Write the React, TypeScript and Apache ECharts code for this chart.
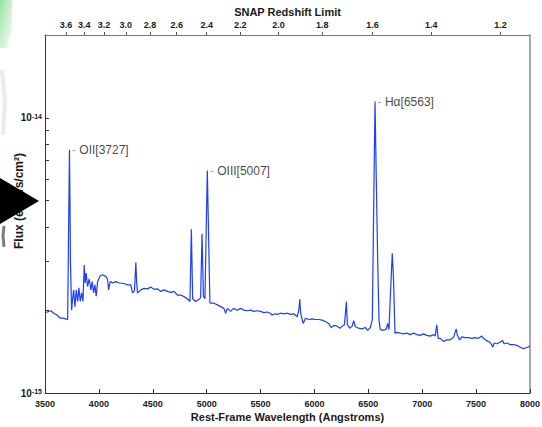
import React, { useEffect, useRef } from 'react';
import * as echarts from 'echarts';

// Rest-frame wavelength (Angstroms)
const wavelengths = [
  3500, 3520, 3556, 3580, 3610, 3630, 3645, 3667, 3690, 3710,
  3727, 3731, 3736, 3747, 3756, 3766, 3778, 3790, 3803, 3815,
  3827, 3840, 3852, 3864, 3873, 3882, 3895, 3910, 3926, 3938,
  3951, 3963, 3975, 3988, 4012, 4034, 4050, 4065, 4081, 4090,
  4105, 4127, 4157, 4188, 4234, 4266, 4296, 4312, 4330, 4343,
  4350, 4358, 4389, 4419, 4451, 4481, 4512, 4544, 4574, 4605,
  4636, 4667, 4697, 4729, 4759, 4790, 4821, 4845, 4858, 4870,
  4898, 4929, 4944, 4957, 4970, 4984, 5006, 5030, 5040, 5068,
  5099, 5130, 5160, 5176, 5192, 5222, 5250, 5284, 5315, 5346,
  5377, 5408, 5438, 5470, 5500, 5530, 5562, 5590, 5608, 5635,
  5655, 5685, 5716, 5747, 5778, 5810, 5840, 5855, 5864, 5872,
  5895, 5917, 5948, 5979, 6010, 6040, 6071, 6102, 6132, 6155,
  6180, 6210, 6234, 6260, 6278, 6290, 6296, 6305, 6327, 6350,
  6364, 6380, 6410, 6442, 6472, 6494, 6519, 6537, 6549, 6562,
  6574, 6586, 6599, 6611, 6642, 6667, 6679, 6692, 6704, 6722,
  6734, 6747, 6766, 6796, 6827, 6858, 6889, 6919, 6951, 6981,
  7012, 7044, 7074, 7105, 7120, 7135, 7148, 7167, 7197, 7229,
  7259, 7290, 7315, 7327, 7346, 7368, 7398, 7429, 7460, 7491,
  7521, 7552, 7567, 7599, 7630, 7655, 7667, 7692, 7722, 7747,
  7759, 7784, 7815, 7845, 7877, 7907, 7938, 7963, 7984, 8000,
];

// Flux in units of 1e-15 ergs/s/cm^2
const fluxes = [
  1.96, 1.97, 1.99, 1.95, 1.92, 1.89, 1.87, 1.87, 1.86, 1.85,
  7.65, 5.3, 3.0, 2.0, 2.2, 2.37, 2.06, 2.37, 2.15, 2.41,
  2.15, 2.31, 2.15, 2.92, 2.51, 2.73, 2.44, 2.6, 2.37, 2.54,
  2.31, 2.47, 2.25, 2.54, 2.66, 2.69, 2.67, 2.65, 2.58, 2.37,
  2.54, 2.51, 2.54, 2.51, 2.5, 2.47, 2.47, 2.31, 2.35, 2.98,
  2.55, 2.31, 2.37, 2.4, 2.39, 2.43, 2.38, 2.39, 2.34, 2.37,
  2.34, 2.32, 2.34, 2.27, 2.27, 2.24, 2.2, 2.15, 3.94, 2.2,
  2.15, 2.19, 2.22, 3.79, 2.25, 2.2, 6.43, 2.13, 2.12, 2.12,
  2.09, 2.06, 2.03, 1.95, 2.03, 1.98, 2.03, 2.0, 2.03, 2.0,
  1.99, 2.0, 1.98, 1.99, 1.98, 1.96, 1.97, 1.95, 1.92, 1.94,
  1.93, 1.95, 1.94, 1.95, 1.93, 1.94, 1.89, 2.0, 2.19, 1.95,
  1.79, 1.87, 1.85, 1.86, 1.85, 1.85, 1.84, 1.82, 1.79, 1.73,
  1.76, 1.75, 1.72, 1.75, 1.77, 2.0, 2.15, 1.78, 1.72, 1.75,
  1.83, 1.74, 1.72, 1.71, 1.73, 1.69, 1.73, 1.85, 4.5, 11.46,
  5.95, 3.13, 1.84, 1.7, 1.69, 1.71, 1.79, 1.7, 2.24, 3.22,
  2.58, 1.65, 1.66, 1.65, 1.64, 1.65, 1.63, 1.65, 1.63, 1.62,
  1.64, 1.62, 1.61, 1.63, 1.61, 1.77, 1.58, 1.58, 1.54, 1.56,
  1.56, 1.59, 1.71, 1.62, 1.56, 1.6, 1.59, 1.59, 1.58, 1.59,
  1.58, 1.61, 1.58, 1.55, 1.53, 1.47, 1.52, 1.51, 1.53, 1.55,
  1.51, 1.52, 1.5, 1.5, 1.49, 1.47, 1.45, 1.46, 1.47, 1.48,
];

const wavelengthMin = 3500;
const wavelengthMax = 8000;
const wavelengthStep = 500;

// Flux axis: 1e-15 .. 2e-14 (in 1e-15 units)
const fluxAxisMin = 1;
const fluxAxisMax = 20;
const decadeExponents = [-15, -14];
const minorTickMultipliers = [1, 2, 3, 4, 5, 6, 7, 8, 9, 10];

// Top axis: SNAP redshift limit for a 1.7 micron cutoff
const snapCutoffAngstrom = 17000;
const redshiftTicks = [3.6, 3.4, 3.2, 3.0, 2.8, 2.6, 2.4, 2.2, 2.0, 1.8, 1.6, 1.4, 1.2];

// Emission line annotations
const lineNames = ['OII[3727]', 'OIII[5007]', 'H\u03b1[6563]'];
const lineWaves = [3727, 5007, 6563];

const FONT = '"Liberation Sans", Arial, Helvetica, sans-serif';

function peakNear(wave: number): number {
  let best = -Infinity;
  for (let i = 0; i < wavelengths.length; i++) {
    if (Math.abs(wavelengths[i] - wave) <= 12 && fluxes[i] > best) best = fluxes[i];
  }
  return best;
}

export default function App() {
  const ref = useRef<HTMLDivElement>(null);

  useEffect(() => {
    if (!ref.current) return;
    const chart = echarts.init(ref.current, undefined, { renderer: 'svg' });

    const toLog = (f: number) => Math.log10(f);
    const redshiftWaves = redshiftTicks.map((z) => snapCutoffAngstrom / (1 + z));

    const option: any = {
      animation: false,
      backgroundColor: '#ffffff',
      grid: { left: 45, right: 12, top: 35, bottom: 34, containLabel: false, outerBoundsMode: 'none' },
      xAxis: [
        {
          type: 'value',
          min: wavelengthMin,
          max: wavelengthMax,
          interval: wavelengthStep,
          position: 'bottom',
          name: 'Rest-Frame Wavelength (Angstroms)',
          nameLocation: 'middle',
          nameGap: 18,
          nameMoveOverlap: false,
          nameTextStyle: { fontFamily: FONT, fontWeight: 'bold', fontSize: 11, color: '#1a1a1a' },
          axisLine: { onZero: false, lineStyle: { color: '#333', width: 1 } },
          axisTick: { show: true, inside: true, length: 4, lineStyle: { color: '#333' } },
          axisLabel: {
            fontFamily: FONT,
            fontWeight: 'bold',
            fontSize: 9,
            color: '#1a1a1a',
            margin: 6,
            formatter: (v: number) => String(v),
          },
          splitLine: { show: false },
        },
        {
          type: 'value',
          min: wavelengthMin,
          max: wavelengthMax,
          position: 'top',
          name: 'SNAP Redshift Limit',
          nameLocation: 'middle',
          nameGap: 18,
          nameMoveOverlap: false,
          nameTextStyle: { fontFamily: FONT, fontWeight: 'bold', fontSize: 11, color: '#1a1a1a' },
          axisLine: { onZero: false, lineStyle: { color: '#777', width: 1 } },
          axisTick: { show: true, inside: false, length: 3, customValues: redshiftWaves, lineStyle: { color: '#555' } },
          axisLabel: {
            customValues: redshiftWaves,
            fontFamily: FONT,
            fontWeight: 'bold',
            fontSize: 9,
            color: '#1a1a1a',
            margin: 6,
            formatter: (v: number) => (snapCutoffAngstrom / v - 1).toFixed(1),
          },
          splitLine: { show: false },
        },
      ],
      yAxis: [
        {
          type: 'value',
          min: toLog(fluxAxisMin),
          max: toLog(fluxAxisMax),
          position: 'left',
          name: 'Flux (ergs/s/cm\u00b2)',
          nameLocation: 'middle',
          nameGap: 20,
          nameMoveOverlap: false,
          nameTextStyle: { fontFamily: FONT, fontWeight: 'bold', fontSize: 12, color: '#1a1a1a', padding: [0, 0, 0, 26] },
          axisLine: { show: true, onZero: false, lineStyle: { color: '#333', width: 1 } },
          axisTick: {
            show: true,
            inside: true,
            length: 4,
            customValues: minorTickMultipliers.map((m) => toLog(m)),
            lineStyle: { color: '#333' },
          },
          axisLabel: {
            customValues: decadeExponents.map((e) => e + 15),
            margin: 3,
            formatter: (v: number) => `{b|10}{s|${Math.round(v) - 15}}`,
            rich: {
              b: { fontFamily: FONT, fontWeight: 'bold', fontSize: 10, color: '#1a1a1a' },
              s: { fontFamily: FONT, fontWeight: 'bold', fontSize: 7, color: '#1a1a1a', verticalAlign: 'top' },
            },
          },
          splitLine: { show: false },
        },
        {
          type: 'value',
          min: toLog(fluxAxisMin),
          max: toLog(fluxAxisMax),
          position: 'right',
          axisLine: { show: true, onZero: false, lineStyle: { color: '#8c8c8c', width: 1.5 } },
          axisTick: { show: false },
          axisLabel: { show: false },
          splitLine: { show: false },
        },
      ],
      series: [
        {
          type: 'line',
          xAxisIndex: 0,
          yAxisIndex: 0,
          data: wavelengths.map((w, i) => [w, toLog(fluxes[i])]),
          showSymbol: false,
          symbol: 'none',
          lineStyle: { color: '#1f3cff', width: 1.2 },
          itemStyle: { color: '#1f3cff' },
          silent: true,
          z: 3,
        },
        {
          type: 'scatter',
          xAxisIndex: 0,
          yAxisIndex: 0,
          symbolSize: 1,
          itemStyle: { color: 'rgba(0,0,0,0)' },
          data: lineNames.map((n, i) => ({ name: n, value: [lineWaves[i], toLog(peakNear(lineWaves[i]))] })),
          label: {
            show: true,
            position: 'right',
            distance: 2,
            formatter: (p: any) => `{d|-} {t|${p.name}}`,
            rich: {
              d: { fontFamily: FONT, fontSize: 12, color: '#8a8a8a' },
              t: { fontFamily: FONT, fontSize: 12, color: '#111' },
            },
          },
          silent: true,
          z: 4,
        },
      ],
      graphic: [
        {
          type: 'rect',
          silent: true,
          shape: { x: 0, y: 0, width: 12, height: 48 },
          style: {
            fill: new echarts.graphic.LinearGradient(0, 0, 1, 1, [
              { offset: 0, color: '#8fe39a' },
              { offset: 0.7, color: 'rgba(200,235,205,0.6)' },
              { offset: 1, color: 'rgba(255,255,255,0)' },
            ]),
          },
        },
        {
          type: 'polyline',
          silent: true,
          shape: { points: [[2, 70], [5, 100], [3, 135]] },
          style: { stroke: 'rgba(200,200,200,0.35)', lineWidth: 4, fill: 'none' },
        },
        {
          type: 'polyline',
          silent: true,
          shape: { points: [[4, 226], [3, 236], [4, 247]] },
          style: { stroke: 'rgba(70,70,70,0.7)', lineWidth: 3, fill: 'none' },
        },
        {
          type: 'polygon',
          silent: true,
          z: 100,
          shape: { points: [[0, 178], [39, 201], [0, 224]] },
          style: { fill: '#000000' },
        },
      ],
    };

    chart.setOption(option);
    return () => chart.dispose();
  }, []);

  return (
    <div
      ref={ref}
      style={{ position: 'absolute', left: 0, top: 0, width: 542, height: 427, background: '#fff' }}
    />
  );
}
